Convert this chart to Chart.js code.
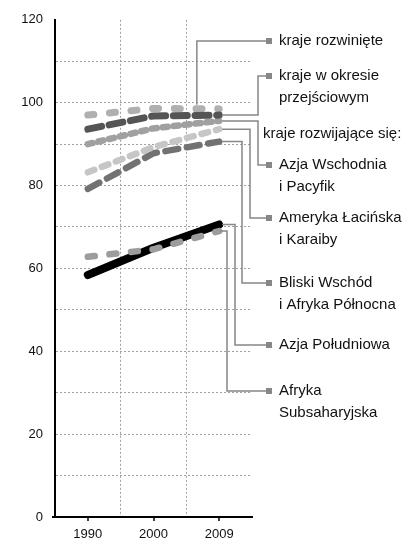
<!DOCTYPE html>
<html>
<head>
<meta charset="utf-8">
<script src="https://cdn.jsdelivr.net/npm/chart.js@4.4.1/dist/chart.umd.min.js"></script>
<style>
html,body{margin:0;padding:0;background:#fff;}
#wrap{width:413px;height:541px;position:relative;}
</style>
</head>
<body>
<div id="wrap"><canvas id="c"></canvas></div>
<script>
// ---- data ----
const years = ['1990', '2000', '2009'];
const krajeRozwiniete = [97.0, 98.6, 98.5];
const krajePrzejsciowe = [93.6, 96.8, 97.0];
const azjaWschodnia = [90.0, 93.8, 95.6];
const amerykaLacinska = [83.2, 89.3, 93.6];
const bliskiWschod = [79.2, 87.8, 90.6];
const azjaPoludniowa = [58.4, 65.0, 70.6];
const afrykaSubsaharyjska = [62.8, 64.6, 69.0];
const yTicks = [0, 20, 40, 60, 80, 100, 120];

const seriesLabels = {
  rozw: ['kraje rozwinięte'],
  przej: ['kraje w okresie', 'przejściowym'],
  header: ['kraje rozwijające się:'],
  azjaW: ['Azja Wschodnia', 'i Pacyfik'],
  amer: ['Ameryka Łacińska', 'i Karaiby'],
  blisk: ['Bliski Wschód', 'i Afryka Północna'],
  azjaP: ['Azja Południowa'],
  afr: ['Afryka', 'Subsaharyjska']
};

const FONT = "'Liberation Sans', Arial, sans-serif";

function ds(label, data, color, width, dash) {
  return {
    label, data, borderColor: color, backgroundColor: color,
    borderWidth: width, borderDash: dash, borderCapStyle: 'round',
    borderJoinStyle: 'round', pointRadius: 0, tension: 0, fill: false
  };
}

const datasets = [
  ds('kraje w okresie przejściowym', krajePrzejsciowe, '#555555', 7, [14, 7.7]),
  ds('kraje rozwinięte', krajeRozwiniete, '#b0b0b0', 7, [6, 15.7]),
  ds('Azja Wschodnia i Pacyfik', azjaWschodnia, '#a0a0a0', 6.5, [5, 6]),
  ds('Ameryka Łacińska i Karaiby', amerykaLacinska, '#c6c6c6', 6.5, [7, 8]),
  ds('Bliski Wschód i Afryka Północna', bliskiWschod, '#727272', 6.5, [13, 8.7]),
  ds('Afryka Subsaharyjska', afrykaSubsaharyjska, '#9c9c9c', 6.5, [7, 14.7]),
  ds('Azja Południowa', azjaPoludniowa, '#000000', 8, [])
];

const annotate = {
  id: 'annotate',
  afterDraw(chart) {
    const ctx = chart.ctx;
    const xs = chart.scales.x, ys = chart.scales.y;
    const ca = chart.chartArea;
    ctx.save();
    ctx.strokeStyle = '#000';
    ctx.lineWidth = 1.5;
    for (let i = 0; i < years.length; i++) {
      const px = Math.round(xs.getPixelForTick(i));
      ctx.beginPath();
      ctx.moveTo(px, ca.bottom);
      ctx.lineTo(px, ca.bottom + 4);
      ctx.stroke();
    }
    ctx.beginPath();
    ctx.lineWidth = 2;
    ctx.moveTo(ca.left - 3, ca.bottom);
    ctx.lineTo(ca.left, ca.bottom);
    ctx.stroke();
    ctx.restore();

    const xEnd = xs.getPixelForValue(2) + 3;
    const yAt = (arr) => ys.getPixelForValue(arr[2]);
    const sqX = 266, txtX = 279, lh = 22;
    ctx.save();
    ctx.strokeStyle = '#878787';
    ctx.fillStyle = '#878787';
    ctx.lineWidth = 1.5;
    function leader(points) {
      ctx.beginPath();
      ctx.moveTo(points[0][0], points[0][1]);
      for (let i = 1; i < points.length; i++) ctx.lineTo(points[i][0], points[i][1]);
      ctx.stroke();
      const last = points[points.length - 1];
      ctx.fillRect(sqX, last[1] - 3, 6, 6);
    }
    const x0 = xs.getPixelForValue(1), x1 = xs.getPixelForValue(2);
    const xr = x0 + (x1 - x0) * 0.66;
    const yr = ys.getPixelForValue(krajeRozwiniete[1] + (krajeRozwiniete[2] - krajeRozwiniete[1]) * 0.66) - 4;
    const Ly = { rozw: 41, przej: 76, header: 134, azjaW: 165, amer: 218, blisk: 283, azjaP: 345, afr: 391 };
    leader([[xr, yr], [xr, Ly.rozw], [sqX, Ly.rozw]]);
    leader([[xEnd, yAt(krajePrzejsciowe)], [258, yAt(krajePrzejsciowe)], [258, Ly.przej], [sqX, Ly.przej]]);
    leader([[xEnd, yAt(azjaWschodnia)], [258, yAt(azjaWschodnia)], [258, Ly.azjaW], [sqX, Ly.azjaW]]);
    leader([[xEnd, yAt(amerykaLacinska)], [250, yAt(amerykaLacinska)], [250, Ly.amer], [sqX, Ly.amer]]);
    leader([[xEnd, yAt(bliskiWschod)], [242, yAt(bliskiWschod)], [242, Ly.blisk], [sqX, Ly.blisk]]);
    leader([[xEnd, yAt(azjaPoludniowa)], [235, yAt(azjaPoludniowa)], [235, Ly.azjaP], [sqX, Ly.azjaP]]);
    leader([[xEnd - 2, yAt(afrykaSubsaharyjska)], [227, yAt(afrykaSubsaharyjska)], [227, Ly.afr], [sqX, Ly.afr]]);

    ctx.fillStyle = '#111';
    ctx.font = '15px ' + FONT;
    ctx.textBaseline = 'middle';
    ctx.textAlign = 'left';
    for (const key of Object.keys(seriesLabels)) {
      const lines = seriesLabels[key];
      const x = key === 'header' ? 263 : txtX;
      lines.forEach((t, i) => ctx.fillText(t, x, Ly[key] + i * lh));
    }
    ctx.restore();
  }
};

new Chart(document.getElementById('c'), {
  type: 'line',
  data: { labels: years, datasets },
  options: {
    responsive: true,
    maintainAspectRatio: false,
    animation: false,
    events: [],
    layout: { padding: { left: 0, top: 18, right: 161, bottom: 0 } },
    plugins: { legend: { display: false }, tooltip: { enabled: false } },
    scales: {
      x: {
        type: 'category',
        offset: true,
        afterFit(s) { s.height = 24; },
        grid: {
          offset: true,
          drawTicks: false,
          color: (c) => (c.type === 'tick' && c.index > 0 && c.index < years.length) ? '#a0a0a0' : 'rgba(0,0,0,0)',
          lineWidth: 1
        },
        border: { display: true, color: '#000', width: 2, dash: [2, 2] },
        ticks: { color: '#111', font: { size: 13, family: FONT }, padding: 10 }
      },
      y: {
        min: 0, max: 120,
        afterFit(s) { s.width = 55; },
        afterBuildTicks(s) {
          const t = [];
          for (let v = 0; v <= 120; v += 10) t.push({ value: v });
          s.ticks = t;
        },
        grid: {
          drawTicks: false,
          color: (c) => (c.tick && (c.tick.value === 120 || c.tick.value === 0)) ? 'rgba(0,0,0,0)' : '#a0a0a0',
          lineWidth: 1
        },
        border: { display: true, color: '#000', width: 2, dash: [2, 2] },
        ticks: {
          color: '#111', font: { size: 13, family: FONT }, padding: 12,
          callback: (v) => yTicks.includes(v) ? String(v) : ''
        }
      }
    }
  },
  plugins: [annotate]
});
</script>
</body>
</html>
